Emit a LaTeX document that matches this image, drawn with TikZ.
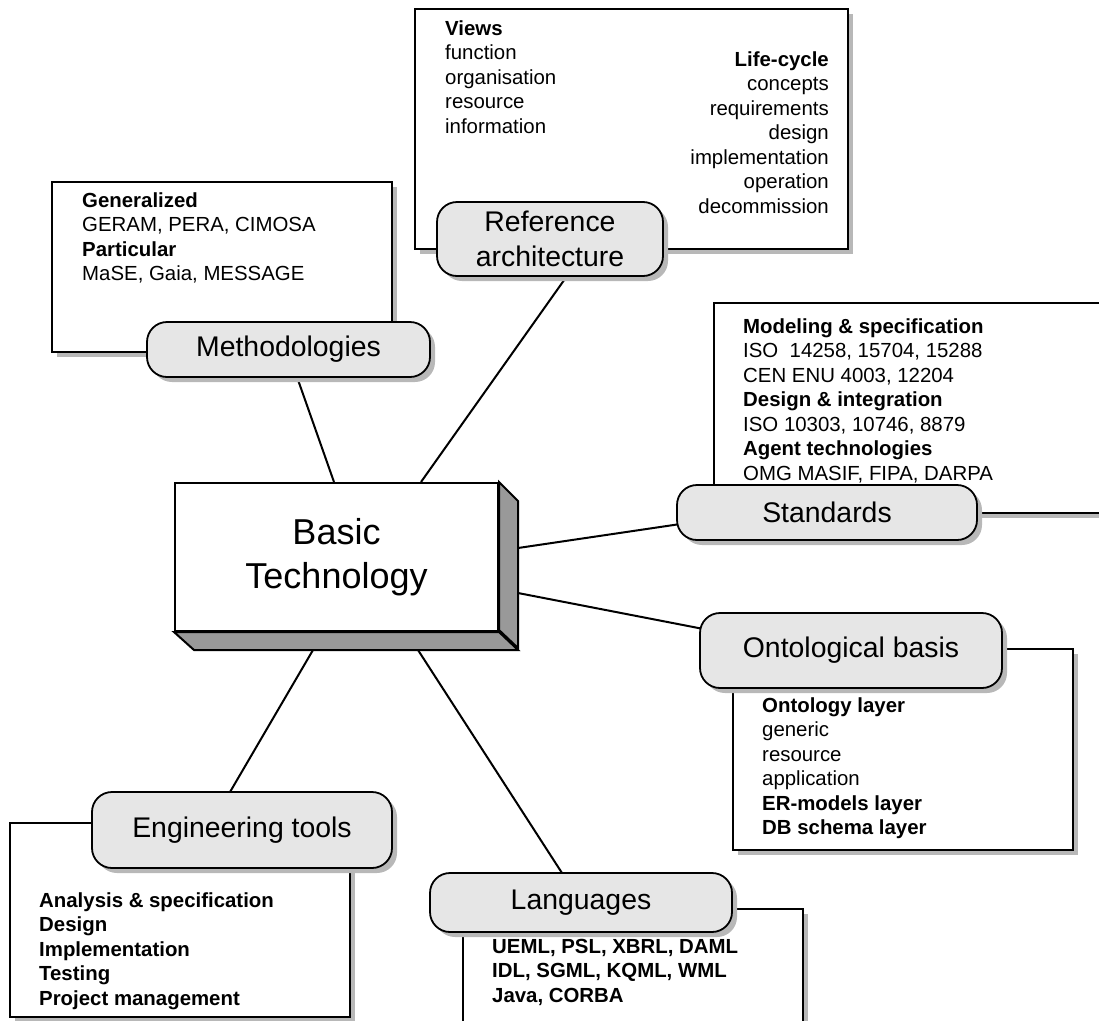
\documentclass[tikz,border=0pt]{standalone}
\usepackage{fontspec}
\setmainfont{Liberation Sans}
\usetikzlibrary{calc,shadows}
\definecolor{lblfill}{HTML}{E6E6E6}
\definecolor{shadowc}{HTML}{B8B8B8}
\definecolor{sidec}{HTML}{999999}
\begin{document}
\begin{tikzpicture}[x=1pt,y=-1pt,
  lbl/.style={draw=black, line width=1.8pt, fill=lblfill, rounded corners=20pt,
    font=\fontsize{28.4}{35}\selectfont, align=center, inner sep=0pt,
    drop shadow={shadow xshift=5pt, shadow yshift=-5pt, fill=shadowc, opacity=1}},
  cbox/.style={draw=black, line width=1.4pt, fill=white, inner sep=0pt,
    drop shadow={shadow xshift=5pt, shadow yshift=-5pt, fill=shadowc, opacity=1}},
  body/.style={font=\fontsize{20.4}{24.5}\selectfont, inner sep=0pt, anchor=base west, align=left},
  bodyb/.style={font=\fontsize{20.4}{24.5}\selectfont\bfseries, inner sep=0pt, anchor=base west, align=left},
  conn/.style={line width=2pt},
]
\useasboundingbox (0,0) rectangle (1099,1020);

% central 3D box
\node[draw=black, line width=2pt, fill=white, minimum width=323pt, minimum height=148pt,
  inner sep=0pt, font=\fontsize{36}{44}\selectfont, align=center] (core) at (336.5,557) {Basic\\Technology};

% label centres (labels drawn later)
\path (550,239) coordinate (refc) (288.5,349.5) coordinate (methc) (827,512.5) coordinate (stdc)
  (851,650.5) coordinate (ontc) (242,830) coordinate (engc) (581,902.5) coordinate (langc);

% connectors
\draw[conn] ([xshift=160pt]core.north west) -- ($(methc)+(8.5,27.5)$);
\draw[conn] ([xshift=247pt]core.north west) -- ($(refc)+(17,37)$);
\draw[conn] ($(core.east)+(19,-9)$) -- ($(stdc)+(-150,12)$);
\draw[conn] ($(core.east)+(19,36)$) -- ($(ontc)+(-150,-22)$);
\draw[conn] ($(core.south)+(81.5,18)$) -- ($(langc)+(-19,-29.5)$);
\draw[conn] ($(core.south)+(-23.5,18)$) -- ($(engc)+(-12,-38)$);

% 3D faces of the central box
\filldraw[fill=sidec, draw=black, line width=2pt, line join=miter]
  (core.north east) -- ++(19,19) -- ++(0,147) -- ++(-19,-18) -- cycle;
\filldraw[fill=sidec, draw=black, line width=2pt, line join=miter]
  (core.south west) -- (core.south east) -- ++(19,18) -- ++(-324,0) -- cycle;
\node[draw=black, line width=2pt, fill=white, minimum width=323pt, minimum height=148pt,
  inner sep=0pt, font=\fontsize{36}{44}\selectfont, align=center] at (core) {Basic\\Technology};

% content boxes
\node[cbox, minimum width=433pt, minimum height=240pt] (refbox) at (631.5,129) {};
\node[cbox, minimum width=340pt, minimum height=170pt] (methbox) at (222,267) {};
\node[cbox, minimum width=400pt, minimum height=210pt] (stdbox) at (914,408) {};
\node[cbox, minimum width=340pt, minimum height=201pt] (ontbox) at (903,749.5) {};
\node[cbox, minimum width=340pt, minimum height=194pt] (engbox) at (180,920) {};
\node[cbox, minimum width=340pt, minimum height=130pt] (langbox) at (633,974) {};

% texts (anchor = baseline of the last line)
\node[body] (reftxtA) at (445,133) {\textbf{Views}\\function\\organisation\\resource\\information};
\node[body, anchor=base east, align=right] (reftxtB) at (829,213)
  {\textbf{Life-cycle}\\concepts\\requirements\\design\\implementation\\operation\\decommission};
\node[body] (methtxt) at (82,280.5) {\textbf{Generalized}\\GERAM, PERA, CIMOSA\\\textbf{Particular}\\MaSE, Gaia, MESSAGE};
\node[body] (stdtxt) at (743,480) {\textbf{Modeling \& specification}\\ISO \ 14258, 15704, 15288\\CEN ENU 4003, 12204\\\textbf{Design \& integration}\\ISO 10303, 10746, 8879\\\textbf{Agent technologies}\\OMG MASIF, FIPA, DARPA};
\node[body] (onttxt) at (762,834.5) {\textbf{Ontology layer}\\generic\\resource\\application\\\textbf{ER-models layer}\\\textbf{DB schema layer}};
\node[bodyb] (engtxt) at (39,1005) {Analysis \& specification\\Design\\Implementation\\Testing\\Project management};
\node[bodyb] (langtxt) at (492,1002) {UEML, PSL, XBRL, DAML\\IDL, SGML, KQML, WML\\Java, CORBA};

% labels
\node[lbl, minimum width=226pt, minimum height=74pt] (ref) at (refc) {Reference\\architecture};
\node[lbl, minimum width=283pt, minimum height=55pt] (meth) at (methc) {Methodologies};
\node[lbl, minimum width=300pt, minimum height=55pt] (std) at (stdc) {Standards};
\node[lbl, minimum width=302pt, minimum height=75pt] (ont) at (ontc) {Ontological basis};
\node[lbl, minimum width=300pt, minimum height=76pt] (eng) at (engc) {Engineering tools};
\node[lbl, minimum width=302pt, minimum height=59pt] (lang) at (langc) {Languages};
\end{tikzpicture}
\end{document}
